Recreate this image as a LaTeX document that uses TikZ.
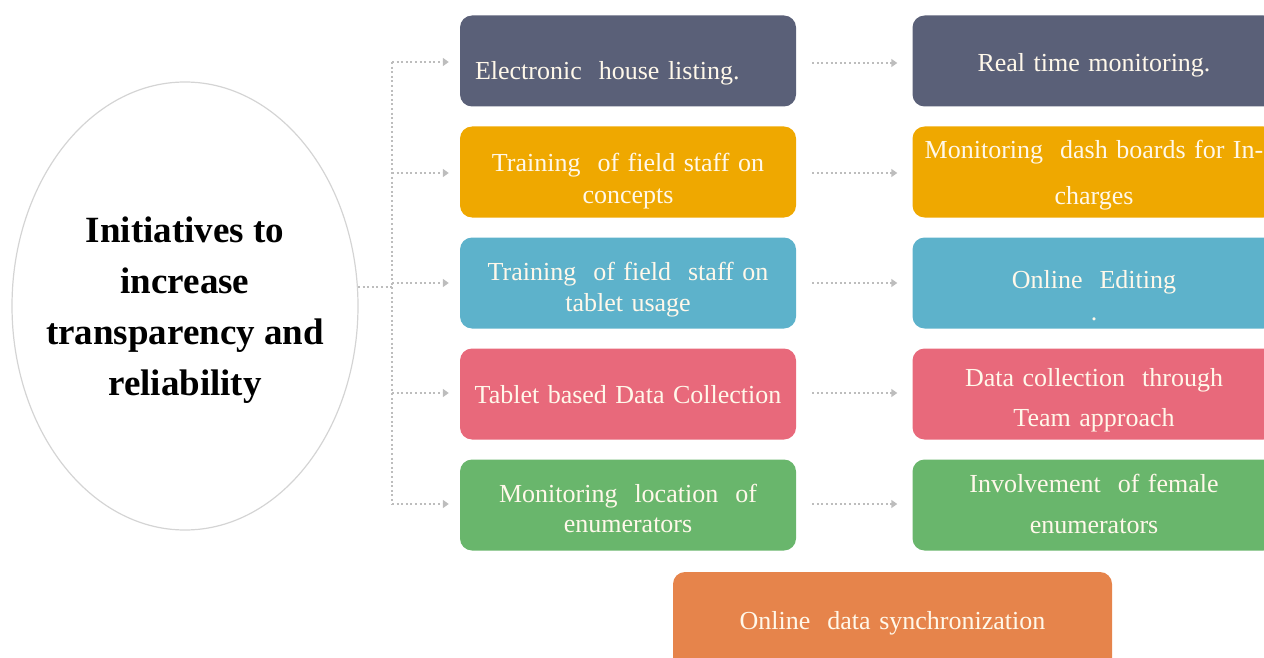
\documentclass[tikz,border=0pt]{standalone}
\usepackage{fontspec}
\setmainfont{Liberation Serif}
\usetikzlibrary{arrows.meta,shapes.geometric}
\definecolor{cslate}{HTML}{5A6078}
\definecolor{camber}{HTML}{EFA800}
\definecolor{cteal}{HTML}{5DB2CB}
\definecolor{cpink}{HTML}{E8697B}
\definecolor{cgreen}{HTML}{69B66C}
\definecolor{corange}{HTML}{E6844B}
\definecolor{ctext}{HTML}{FFF8EA}
\definecolor{cdot}{HTML}{BDBDBD}
\definecolor{cring}{HTML}{D4D4D4}
% #1 height, #2 width, #3 baselineskip, #4 top offset, #5 text
\newcommand\boxtxt[5]{\parbox[c][#1][t]{#2}{\fontsize{26}{#3}\selectfont\spaceskip=8.5pt plus 2pt minus 1pt\vspace*{#4}\centering\rule{0pt}{20pt}#5}}
\newcommand\boxtxtl[5]{\parbox[c][#1][t]{#2}{\fontsize{26}{#3}\selectfont\spaceskip=8.5pt plus 2pt minus 1pt\vspace*{#4}\raggedright\hspace*{15pt}\rule{0pt}{20pt}#5}}
\tikzset{
  boxl/.style={rounded corners=12pt, minimum width=336pt, minimum height=91pt,
    inner sep=0pt, text=ctext},
  boxr/.style={boxl, minimum width=363pt},
  conn/.style={draw=cdot, line width=2pt, dash pattern=on 2pt off 2.6pt,
    -{Triangle[length=6pt,width=8pt]}},
  trunk/.style={draw=cdot, line width=2pt, dash pattern=on 2pt off 2.6pt}
}
\begin{document}
\begin{tikzpicture}[x=1pt,y=-1pt]
\useasboundingbox (0,0) rectangle (1264,658);
\clip (0,0) rectangle (1264,658);

% central ellipse
\node[ellipse, inner sep=0pt, align=center,
  font=\bfseries\fontsize{37}{51}\selectfont] (ell) at (185,310)
  {Initiatives to\\increase\\transparency and\\reliability};
\draw[cring, line width=1.2pt] (185,306) ellipse [x radius=173pt, y radius=224pt];

% left column
\node[boxl, fill=cslate] (l1) at (628,61) {\boxtxtl{91pt}{336pt}{32pt}{44.5pt}{Electronic\ \ house listing.}};
\node[boxl, fill=camber] (l2) at (628,172) {\boxtxt{91pt}{336pt}{32pt}{25.5pt}{Training\ \ of field staff on\\concepts}};
\node[boxl, fill=cteal] (l3) at (628,283) {\boxtxt{91pt}{336pt}{31pt}{23pt}{Training\ \ of field\ \ staff on\\tablet usage}};
\node[boxl, fill=cpink] (l4) at (628,394) {\boxtxt{91pt}{336pt}{32pt}{34.5pt}{Tablet based Data Collection}};
\node[boxl, fill=cgreen] (l5) at (628,505) {\boxtxt{91pt}{336pt}{30pt}{22.5pt}{Monitoring\ \ location\ \ of\\enumerators}};

% right column
\node[boxr, fill=cslate] (r1) at (1094,61) {\boxtxt{91pt}{363pt}{32pt}{36.5pt}{Real time monitoring.}};
\node[boxr, fill=camber] (r2) at (1094,172) {\boxtxt{91pt}{363pt}{46pt}{12pt}{Monitoring\ \ dash boards for In-\\charges}};
\node[boxr, fill=cteal] (r3) at (1094,283) {\boxtxt{91pt}{363pt}{32pt}{31pt}{Online\ \ Editing\\.}};
\node[boxr, fill=cpink] (r4) at (1094,394) {\boxtxt{91pt}{363pt}{40pt}{17.5pt}{Data collection\ \ through\\Team approach}};
\node[boxr, fill=cgreen] (r5) at (1094,505) {\boxtxt{91pt}{363pt}{41pt}{12.5pt}{Involvement\ \ of female\\enumerators}};

% bottom box
\node[boxl, fill=corange, minimum width=439pt, minimum height=100pt] (bt) at (892.5,622)
  {\boxtxt{100pt}{439pt}{32pt}{37pt}{Online\ \ data synchronization}};

% connectors
\coordinate (jt) at (392,62);
\coordinate (jm) at (392,287);
\coordinate (jb) at (392,505);
\coordinate (es) at (358,287);
\draw[trunk] (jt) -- (jb);
\draw[trunk] (es) -- (jm);
\foreach \n/\yy in {l1/62,l2/173,l3/283,l4/393,l5/504}{
  \draw[conn, shorten >=11pt] (392,\yy) -- (\n.west |- 0,\yy);
}
\foreach \i/\yy in {1/63,2/173,3/283,4/393,5/504}{
  \draw[conn, shorten <=16pt, shorten >=15pt] (l\i.east |- 0,\yy) -- (r\i.west |- 0,\yy);
}
\end{tikzpicture}
\end{document}
